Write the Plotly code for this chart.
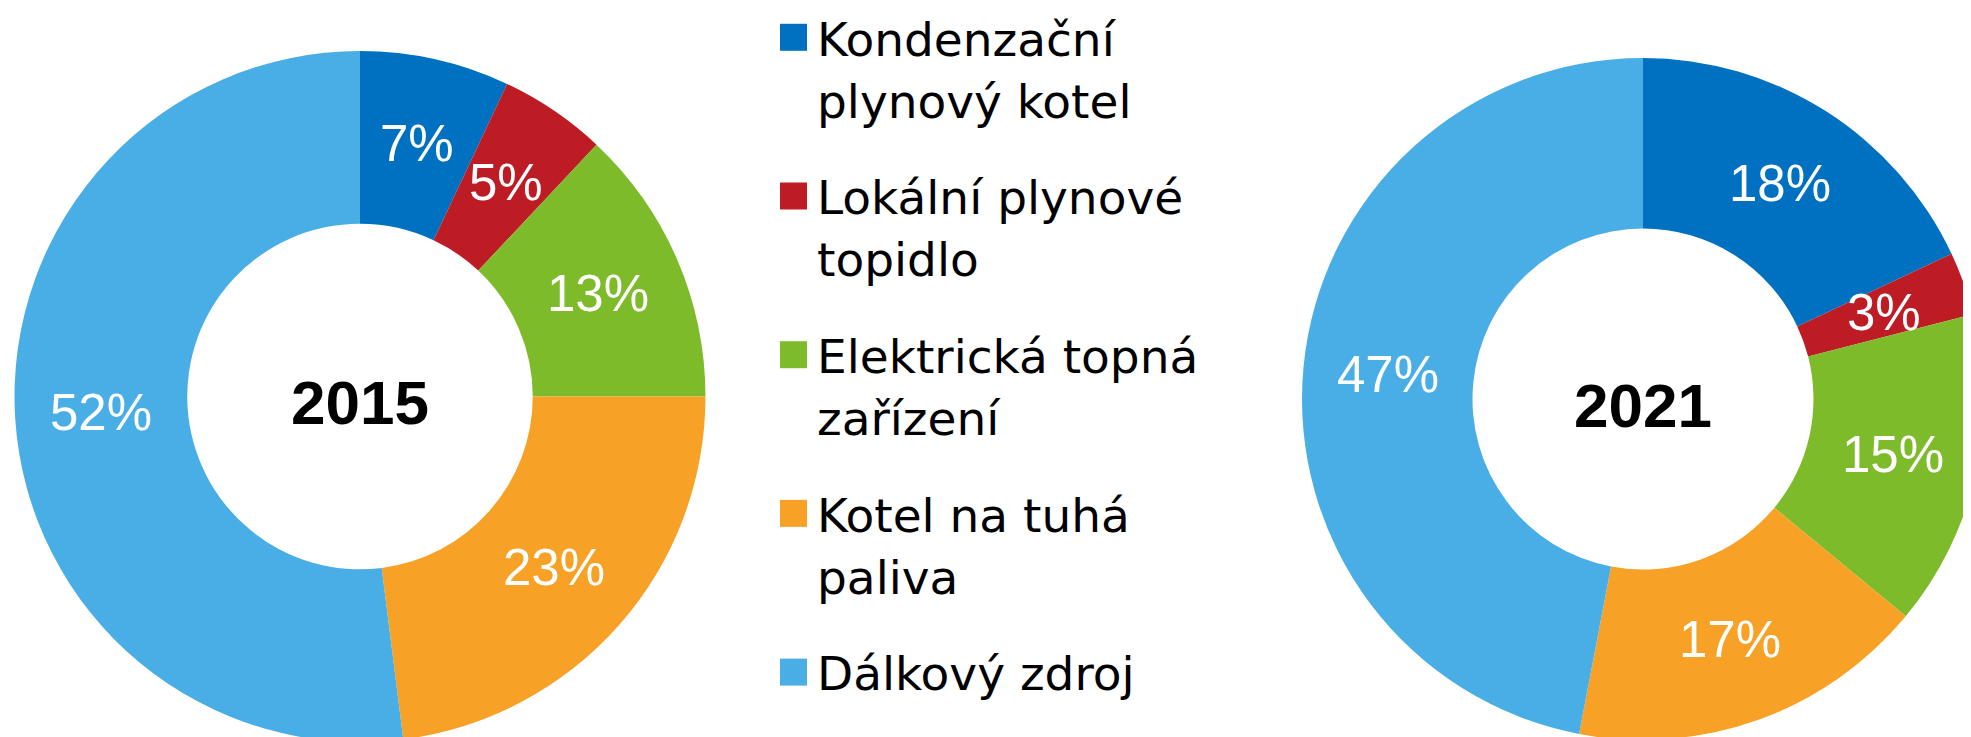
import math
import plotly.graph_objects as go

# ---- data ----
categories = [
    "Kondenzační<br>plynový kotel",
    "Lokální plynové<br>topidlo",
    "Elektrická topná<br>zařízení",
    "Kotel na tuhá<br>paliva",
    "Dálkový zdroj",
]
years = ["2015", "2021"]
shares_2015 = [7, 5, 13, 23, 52]
shares_2021 = [18, 3, 15, 17, 47]
colors = ["#0070C0", "#BE1C24", "#7EBB2B", "#F7A227", "#4AAEE6"]

# figure is a bit larger than the window so the donuts are cut at the edges
W, H = 1990, 750
OFF = 8  # page body margin
labels_plain = [c.replace("<br>", " ") for c in categories]
FONT = "Liberation Sans, Arial, sans-serif"


def px_x(p):
    return (p - OFF) / W


def px_y(p):
    return 1 - (p - OFF) / H


# pie geometry in page pixels (center x, center y, radius)
pies = [
    dict(year=years[0], values=shares_2015, cx=360.0, cy=396.5, r=345.5),
    dict(year=years[1], values=shares_2021, cx=1643.0, cy=399.0, r=341.0),
]

fig = go.Figure()
annotations = []

for p in pies:
    x0, x1 = p["cx"] - p["r"], p["cx"] + p["r"]
    y0, y1 = p["cy"] - p["r"], p["cy"] + p["r"]
    dom_x = [max(0.0, px_x(x0)), min(1.0, px_x(x1))]
    dom_y = [max(0.0, px_y(y1)), min(1.0, px_y(y0))]
    fig.add_trace(go.Pie(
        labels=labels_plain,
        values=p["values"],
        sort=False,
        direction="clockwise",
        rotation=0,
        hole=0.5,
        marker=dict(colors=colors, line=dict(width=0)),
        textinfo="none",
        showlegend=False,
        hoverinfo="label+value",
        domain=dict(x=dom_x, y=dom_y),
        title=dict(text="<b>" + p["year"] + "</b>", position="middle center",
                   font=dict(family=FONT, size=62, color="black")),
    ))
    # value labels at the middle of the ring, on each slice's mid-angle
    total = sum(p["values"])
    cum = 0.0
    for v in p["values"]:
        mid = (cum + v / 2) / total * 2 * math.pi
        cum += v
        rr = 0.75 * p["r"]
        tx = p["cx"] + rr * math.sin(mid)
        ty = p["cy"] - rr * math.cos(mid)
        annotations.append(dict(
            text=f"{v}%", xref="paper", yref="paper",
            x=px_x(tx), y=px_y(ty), xanchor="center", yanchor="middle",
            showarrow=False, font=dict(family=FONT, size=51, color="white"),
        ))

# ---- legend (custom, to reproduce the large swatches and spacing) ----
item_step = 158.7
line_step = 62
first_cap_center = 39
shapes = []
for i, (cat, col) in enumerate(zip(categories, colors)):
    yc = first_cap_center + i * item_step
    sq_c = yc - 1.7
    shapes.append(dict(
        type="rect", xref="paper", yref="paper",
        x0=px_x(780), x1=px_x(807), y0=px_y(sq_c + 13.5), y1=px_y(sq_c - 13.5),
        fillcolor=col, line=dict(width=0),
    ))
    for j, line in enumerate(cat.split("<br>")):
        annotations.append(dict(
            text=line, xref="paper", yref="paper",
            x=px_x(815), y=px_y(yc + j * line_step),
            xanchor="left", yanchor="middle", showarrow=False,
            font=dict(family="DejaVu Sans, sans-serif", size=47, color="black"),
        ))

fig.update_layout(
    width=W, height=H,
    margin=dict(l=0, r=0, t=0, b=0),
    paper_bgcolor="white",
    plot_bgcolor="white",
    shapes=shapes,
    annotations=annotations,
)

fig.write_html("out.html")
